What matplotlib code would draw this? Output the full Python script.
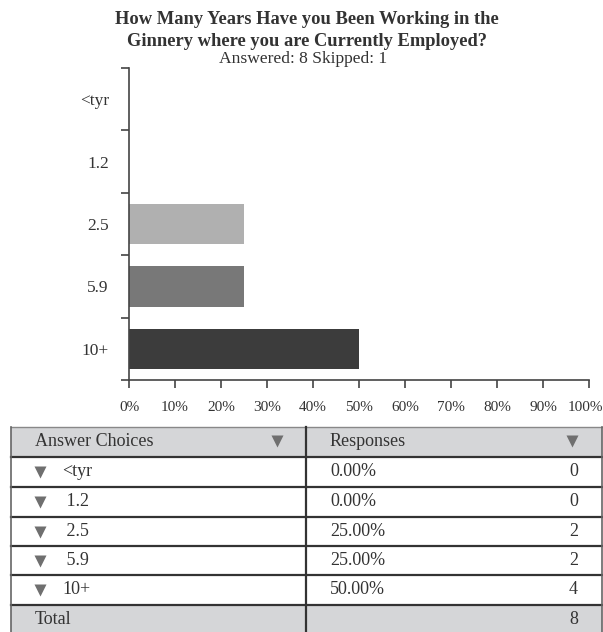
import matplotlib
matplotlib.use("Agg")
import matplotlib.pyplot as plt
import matplotlib.transforms as mtransforms
from matplotlib.patches import Rectangle

# ---- data ----
categories = ["<tyr", "1.2", "2.5", "5.9", "10+"]
table_labels = ["<tyr", " 1.2", " 2.5", " 5.9", "10+"]
percents = [0.0, 0.0, 25.0, 25.0, 50.0]
counts = [0, 0, 2, 2, 4]
total = 8
bar_colors = ["#d0d0d0", "#a0a0a0", "#b0b0b0", "#787878", "#3c3c3c"]
xticks = [0, 10, 20, 30, 40, 50, 60, 70, 80, 90, 100]
xticklabels = [f"{v}%" for v in xticks]

SERIF = ["Liberation Serif", "DejaVu Serif"]
TXT = "#333333"
AX = "#444444"

plt.rcParams["font.family"] = SERIF

W, H = 603, 632
fig = plt.figure(figsize=(W / 100, H / 100), dpi=100)

# ---- bar chart ----
ax = fig.add_axes([129 / W, 1 - 380 / H, 460 / W, 312 / H])
ypos = list(range(len(categories)))
ax.barh(ypos, percents, height=0.65, color=bar_colors[:len(categories)], zorder=2)
ax.set_xlim(0, 100)
ax.set_ylim(len(categories) - 0.5, -0.5)
for s in ["top", "right"]:
    ax.spines[s].set_visible(False)
for s in ["left", "bottom"]:
    ax.spines[s].set_color(AX)
    ax.spines[s].set_linewidth(1.2)
ax.set_xticks(xticks)
ax.set_xticklabels(xticklabels, fontsize=11, color=TXT)
ax.tick_params(axis="x", length=6, width=1.2, color=AX, pad=9)
# keep the last label inside the figure
last = ax.get_xticklabels()[-1]
last.set_transform(last.get_transform() + mtransforms.ScaledTranslation(-4 / 100, 0, fig.dpi_scale_trans))
ax.set_yticks([i - 0.5 for i in range(len(categories) + 1)])
ax.set_yticklabels([])
ax.tick_params(axis="y", length=6, width=1.2, color=AX)
ax.set_yticks(ypos, minor=True)
ax.set_yticklabels(categories, minor=True, fontsize=12.5, color=TXT)
ax.tick_params(axis="y", which="minor", length=0, pad=14.5)

# ---- title ----
fig.text(307 / W, 1 - 19 / H, "How Many Years Have you Been Working in the",
         ha="center", va="center", fontsize=13.3, fontweight="bold", color=TXT)
fig.text(307 / W, 1 - 41 / H, "Ginnery where you are Currently Employed?",
         ha="center", va="center", fontsize=13.3, fontweight="bold", color=TXT)
fig.text(303 / W, 1 - 59 / H, "Answered: 8 Skipped: 1",
         ha="center", va="center", fontsize=12.6, color=TXT)

# ---- table ----
tx = fig.add_axes([0, 0, 1, 1], zorder=-1)
tx.set_xlim(0, W)
tx.set_ylim(H, 0)
tx.axis("off")

left, mid, right = 11, 306, 602
rows = [427, 457, 487, 517, 546, 575, 605, 640]
GRAY = "#d5d6d8"
tx.add_patch(Rectangle((left, rows[0]), right - left, rows[1] - rows[0], facecolor=GRAY, edgecolor="none"))
tx.add_patch(Rectangle((left, rows[6]), right - left, rows[7] - rows[6], facecolor=GRAY, edgecolor="none"))
tx.plot([left, right], [rows[0], rows[0]], color="#888888", lw=1.0)
for r in rows[1:7]:
    tx.plot([left, right], [r, r], color="#333333", lw=1.6)
tx.plot([left, left], [rows[0], H], color="#666666", lw=1.2)
tx.plot([right, right], [rows[0], H], color="#666666", lw=1.2)
tx.plot([mid, mid], [rows[0], H], color="#333333", lw=1.6)

FS = 13
TRI = "#6f6f6f"
TMS = 9


def tri(x, y):
    tx.plot([x], [y], marker="v", ms=TMS, color=TRI, mec="none", linestyle="none")


hy = (rows[0] + rows[1]) / 2
tx.text(35, hy, "Answer Choices", ha="left", va="center", fontsize=FS, color=TXT)
tri(277, hy - 1)
tx.text(330, hy, "Responses", ha="left", va="center", fontsize=FS, color=TXT)
tri(572, hy - 1)

for i, (lab, p, c) in enumerate(zip(table_labels, percents, counts)):
    cy = (rows[i + 1] + rows[i + 2]) / 2
    tri(40, cy)
    tx.text(62, cy, lab, ha="left", va="center", fontsize=FS, color=TXT)
    tx.text(330, cy, f"{p:.2f}%", ha="left", va="center", fontsize=FS, color=TXT)
    tx.text(578, cy, str(c), ha="right", va="center", fontsize=FS, color=TXT)

ty = (rows[6] + 632) / 2 + 1
tx.text(35, ty, "Total", ha="left", va="center", fontsize=FS, color=TXT)
tx.text(578, ty, str(total), ha="right", va="center", fontsize=FS, color=TXT)

fig.savefig("out.png", dpi=100)
